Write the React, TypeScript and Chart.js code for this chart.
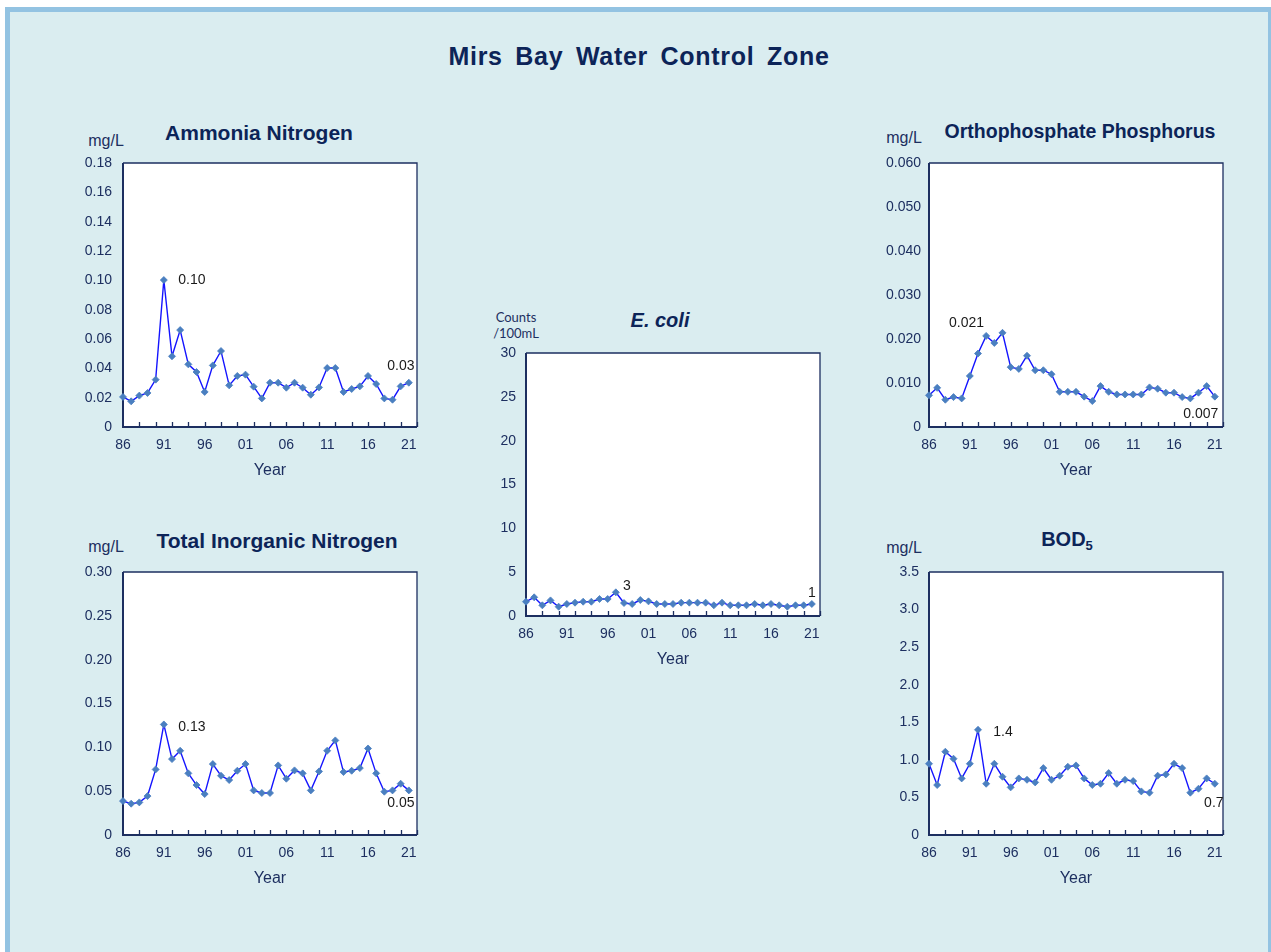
import React, { useEffect, useRef } from "react";
import { Chart, registerables } from "chart.js";

Chart.register(...registerables);

// ---------- data ----------
const years = [
  1986, 1987, 1988, 1989, 1990, 1991, 1992, 1993, 1994, 1995, 1996, 1997,
  1998, 1999, 2000, 2001, 2002, 2003, 2004, 2005, 2006, 2007, 2008, 2009,
  2010, 2011, 2012, 2013, 2014, 2015, 2016, 2017, 2018, 2019, 2020, 2021,
];
const xTickYears = [1986, 1991, 1996, 2001, 2006, 2011, 2016, 2021];
const xTickLabels = ["86", "91", "96", "01", "06", "11", "16", "21"];
const xMarkYears = [1988, 1990, 1992, 1994, 1996, 1998, 2000, 2002, 2004, 2006, 2008, 2010, 2012, 2014, 2016, 2018, 2020, 2022];

const ammonia = [0.0205, 0.0175, 0.0214, 0.0232, 0.0323, 0.1002, 0.0482, 0.0661, 0.0427, 0.0375, 0.0239, 0.042, 0.0518, 0.0284, 0.0348, 0.0357, 0.0275, 0.0195, 0.0302, 0.0302, 0.0268, 0.0302, 0.0268, 0.022, 0.027, 0.0402, 0.0402, 0.0239, 0.0259, 0.0277, 0.0348, 0.0293, 0.0195, 0.0186, 0.0277, 0.0302];
const ammoniaTicks = ["0", "0.02", "0.04", "0.06", "0.08", "0.10", "0.12", "0.14", "0.16", "0.18"];
const ammoniaNotes = [{ index: 5, text: "0.10" }, { index: 35, text: "0.03" }];

const ortho = [0.0072, 0.0089, 0.0062, 0.0068, 0.0065, 0.0116, 0.0167, 0.0207, 0.0191, 0.0214, 0.0136, 0.0132, 0.0162, 0.0129, 0.0129, 0.012, 0.008, 0.008, 0.008, 0.0069, 0.0059, 0.0093, 0.008, 0.0074, 0.0074, 0.0074, 0.0074, 0.009, 0.0087, 0.0078, 0.0078, 0.0068, 0.0065, 0.0078, 0.0093, 0.0069];
const orthoTicks = ["0", "0.010", "0.020", "0.030", "0.040", "0.050", "0.060"];
const orthoNotes = [{ index: 9, text: "0.021" }, { index: 35, text: "0.007" }];

const ecoli = [1.63, 2.13, 1.22, 1.78, 1.06, 1.37, 1.52, 1.63, 1.63, 1.94, 1.94, 2.7, 1.48, 1.37, 1.82, 1.67, 1.37, 1.37, 1.37, 1.52, 1.52, 1.52, 1.52, 1.22, 1.52, 1.22, 1.22, 1.22, 1.37, 1.22, 1.37, 1.22, 1.06, 1.22, 1.22, 1.37];
const ecoliTicks = ["0", "5", "10", "15", "20", "25", "30"];
const ecoliNotes = [{ index: 11, text: "3" }, { index: 35, text: "1" }];

const tin = [0.0387, 0.0357, 0.0372, 0.0444, 0.0748, 0.1261, 0.0866, 0.0961, 0.0703, 0.057, 0.0467, 0.0809, 0.0676, 0.0627, 0.0733, 0.0809, 0.0509, 0.0479, 0.0479, 0.0794, 0.0642, 0.0737, 0.0703, 0.0509, 0.0725, 0.0961, 0.1079, 0.0718, 0.0733, 0.0763, 0.0987, 0.0703, 0.0494, 0.0509, 0.0585, 0.0509];
const tinTicks = ["0", "0.05", "0.10", "0.15", "0.20", "0.25", "0.30"];
const tinNotes = [{ index: 5, text: "0.13" }, { index: 35, text: "0.05" }];

const bod = [0.948, 0.665, 1.108, 1.015, 0.753, 0.948, 1.4, 0.682, 0.948, 0.775, 0.634, 0.753, 0.735, 0.7, 0.89, 0.735, 0.789, 0.908, 0.926, 0.753, 0.665, 0.682, 0.824, 0.682, 0.735, 0.718, 0.58, 0.563, 0.789, 0.806, 0.948, 0.89, 0.563, 0.616, 0.753, 0.682];
const bodTicks = ["0", "0.5", "1.0", "1.5", "2.0", "2.5", "3.0", "3.5"];
const bodNotes = [{ index: 6, text: "1.4" }, { index: 35, text: "0.7" }];

// ---------- styles ----------
const FONT = '"Liberation Sans", Arial, Helvetica, sans-serif';
const NAVY = "#1d2f60";
const TITLE = "#0c2458";
const LINE = "#1414ff";
const POINT = "#4a7fc0";
const Y_W = 70;
const PAD_T = 26;
const PAD_R = 18;
const X_H = 55;

type Cfg = {
  plot: { l: number; t: number; r: number; b: number };
  values: number[];
  yMax: number;
  yStep: number;
  yLabels: string[];
  yPad: number;
  notes: { index: number; text: string }[];
  noteOffsets: [number, number][];
};

const framePlugin = {
  id: "frame",
  beforeDraw(chart: any) {
    const { ctx, chartArea: a } = chart;
    ctx.save();
    ctx.fillStyle = "#ffffff";
    ctx.fillRect(a.left, a.top, a.right - a.left, a.bottom - a.top);
    ctx.restore();
  },
  beforeDatasetsDraw(chart: any) {
    const { ctx, chartArea: a } = chart;
    const xs = chart.scales.x;
    ctx.save();
    ctx.strokeStyle = NAVY;
    ctx.lineWidth = 1.3;
    ctx.beginPath();
    ctx.moveTo(a.left, a.top);
    ctx.lineTo(a.right, a.top);
    ctx.lineTo(a.right, a.bottom);
    ctx.stroke();
    ctx.lineWidth = 2;
    ctx.beginPath();
    ctx.moveTo(a.left, a.top);
    ctx.lineTo(a.left, a.bottom);
    ctx.lineTo(a.right, a.bottom);
    ctx.stroke();
    ctx.lineWidth = 1.3;
    ctx.beginPath();
    for (const yr of xMarkYears) {
      const px = Math.round(xs.getPixelForValue(yr)) + 0.5;
      ctx.moveTo(px, a.bottom);
      ctx.lineTo(px, a.bottom - 5);
    }
    ctx.stroke();
    ctx.restore();
  },
};

const notePlugin = {
  id: "notes",
  afterDatasetsDraw(chart: any, _args: any, opts: any) {
    const { ctx } = chart;
    const meta = chart.getDatasetMeta(0);
    ctx.save();
    ctx.fillStyle = "#1a1a1a";
    ctx.font = `14px ${FONT}`;
    ctx.textAlign = "center";
    ctx.textBaseline = "middle";
    (opts.notes || []).forEach((n: any, i: number) => {
      const el = meta.data[n.index];
      const [dx, dy] = opts.offsets[i];
      ctx.fillText(n.text, el.x + dx, el.y + dy);
    });
    ctx.restore();
  },
};

function MiniChart({ cfg }: { cfg: Cfg }) {
  const ref = useRef<HTMLCanvasElement>(null);
  const { plot } = cfg;
  const width = Y_W + (plot.r - plot.l) + PAD_R;
  const height = PAD_T + (plot.b - plot.t) + X_H;
  useEffect(() => {
    const chart = new Chart(ref.current as HTMLCanvasElement, {
      type: "line",
      data: {
        datasets: [
          {
            data: years.map((y, i) => ({ x: y, y: cfg.values[i] })),
            borderColor: LINE,
            borderWidth: 1.4,
            pointStyle: "rectRot",
            pointRadius: 3.5,
            pointBackgroundColor: POINT,
            pointBorderColor: POINT,
            pointBorderWidth: 0.8,
            tension: 0,
            clip: false as any,
          },
        ],
      },
      options: {
        responsive: false,
        animation: false,
        events: [],
        layout: { padding: { left: 0, top: PAD_T, right: PAD_R, bottom: 0 } },
        plugins: {
          legend: { display: false },
          tooltip: { enabled: false },
          notes: { notes: cfg.notes, offsets: cfg.noteOffsets },
        } as any,
        scales: {
          x: {
            type: "linear",
            min: 1986,
            max: 2022,
            afterFit: (s: any) => {
              s.height = X_H;
            },
            grid: { display: false, drawTicks: false, tickLength: 0 },
            border: { display: false },
            ticks: {
              stepSize: 1,
              autoSkip: false,
              maxRotation: 0,
              minRotation: 0,
              padding: 10,
              color: NAVY,
              font: { size: 14, family: FONT },
              callback: (v: any) => {
                const k = xTickYears.indexOf(Number(v));
                return k >= 0 ? xTickLabels[k] : "";
              },
            },
            title: {
              display: true,
              text: "Year",
              color: NAVY,
              font: { size: 16, family: FONT },
              padding: { top: 0, bottom: 2 },
            },
          },
          y: {
            min: 0,
            max: cfg.yMax,
            afterFit: (s: any) => {
              s.width = Y_W;
            },
            grid: { display: false, drawTicks: false, tickLength: 0 },
            border: { display: false },
            ticks: {
              stepSize: cfg.yStep,
              padding: cfg.yPad,
              color: NAVY,
              font: { size: 14, family: FONT },
              callback: (_v: any, i: number) => cfg.yLabels[i],
            },
          },
        },
      } as any,
      plugins: [framePlugin, notePlugin],
    });
    return () => chart.destroy();
  }, []);
  return (
    <canvas
      ref={ref}
      width={width}
      height={height}
      style={{
        position: "absolute",
        left: plot.l - Y_W,
        top: plot.t - PAD_T,
        width,
        height,
      }}
    />
  );
}

const abs = (cx: number, cy: number, extra: React.CSSProperties = {}): React.CSSProperties => ({
  position: "absolute",
  left: cx,
  top: cy,
  transform: "translate(-50%, -50%)",
  whiteSpace: "nowrap",
  lineHeight: 1,
  ...extra,
});

const titleStyle: React.CSSProperties = { fontWeight: "bold", fontSize: 20, color: TITLE };
const unitStyle: React.CSSProperties = { fontSize: 16, color: NAVY };

const cfgAmmonia: Cfg = {
  plot: { l: 123, t: 163, r: 417, b: 427 },
  values: ammonia, yMax: 0.18, yStep: 0.02, yLabels: ammoniaTicks, yPad: 11,
  notes: ammoniaNotes, noteOffsets: [[28, 0], [-8, -17]],
};
const cfgOrtho: Cfg = {
  plot: { l: 929, t: 163, r: 1223, b: 427 },
  values: ortho, yMax: 0.06, yStep: 0.01, yLabels: orthoTicks, yPad: 8,
  notes: orthoNotes, noteOffsets: [[-36, -10], [-14, 18]],
};
const cfgEcoli: Cfg = {
  plot: { l: 526, t: 353, r: 820, b: 616 },
  values: ecoli, yMax: 30, yStep: 5, yLabels: ecoliTicks, yPad: 10,
  notes: ecoliNotes, noteOffsets: [[11, -6], [0, -11]],
};
const cfgTin: Cfg = {
  plot: { l: 123, t: 572, r: 417, b: 835 },
  values: tin, yMax: 0.3, yStep: 0.05, yLabels: tinTicks, yPad: 11,
  notes: tinNotes, noteOffsets: [[28, 3], [-8, 13]],
};
const cfgBod: Cfg = {
  plot: { l: 929, t: 572, r: 1223, b: 835 },
  values: bod, yMax: 3.5, yStep: 0.5, yLabels: bodTicks, yPad: 10,
  notes: bodNotes, noteOffsets: [[25, 2], [-1, 19]],
};

export default function App() {
  return (
    <div
      style={{
        position: "absolute",
        left: 0,
        top: 0,
        width: 1271,
        height: 952,
        overflow: "hidden",
        background: "#ffffff",
        fontFamily: FONT,
      }}
    >
      <div
        style={{
          position: "absolute",
          left: 5,
          top: 7,
          width: 1268,
          height: 960,
          boxSizing: "border-box",
          border: "5px solid #93c3e2",
          background: "#daedf0",
        }}
      />
      <div
        style={abs(639, 56, {
          fontWeight: "bold",
          fontSize: 25,
          color: TITLE,
          wordSpacing: 5,
          letterSpacing: 0.7,
        })}
      >
        Mirs Bay Water Control Zone
      </div>

      <div style={abs(259, 132, { ...titleStyle, fontSize: 21 })}>Ammonia Nitrogen</div>
      <div style={abs(106, 141, unitStyle)}>mg/L</div>
      <MiniChart cfg={cfgAmmonia} />

      <div style={abs(1080, 132, { ...titleStyle, fontSize: 19.5 })}>Orthophosphate Phosphorus</div>
      <div style={abs(904, 138, unitStyle)}>mg/L</div>
      <MiniChart cfg={cfgOrtho} />

      <div style={abs(660, 320, { ...titleStyle, fontStyle: "italic" })}>E. coli</div>
      <div
        style={abs(516, 325, {
          fontFamily: "Lato, 'Open Sans', sans-serif",
          fontSize: 13,
          color: NAVY,
          textAlign: "center",
          lineHeight: "16px",
        })}
      >
        Counts
        <br />
        /100mL
      </div>
      <MiniChart cfg={cfgEcoli} />

      <div style={abs(277, 540, { ...titleStyle, fontSize: 21 })}>Total Inorganic Nitrogen</div>
      <div style={abs(106, 547, unitStyle)}>mg/L</div>
      <MiniChart cfg={cfgTin} />

      <div style={abs(1067, 540, titleStyle)}>
        BOD<sub style={{ fontSize: 13, verticalAlign: "-4px" }}>5</sub>
      </div>
      <div style={abs(904, 548, unitStyle)}>mg/L</div>
      <MiniChart cfg={cfgBod} />
    </div>
  );
}
